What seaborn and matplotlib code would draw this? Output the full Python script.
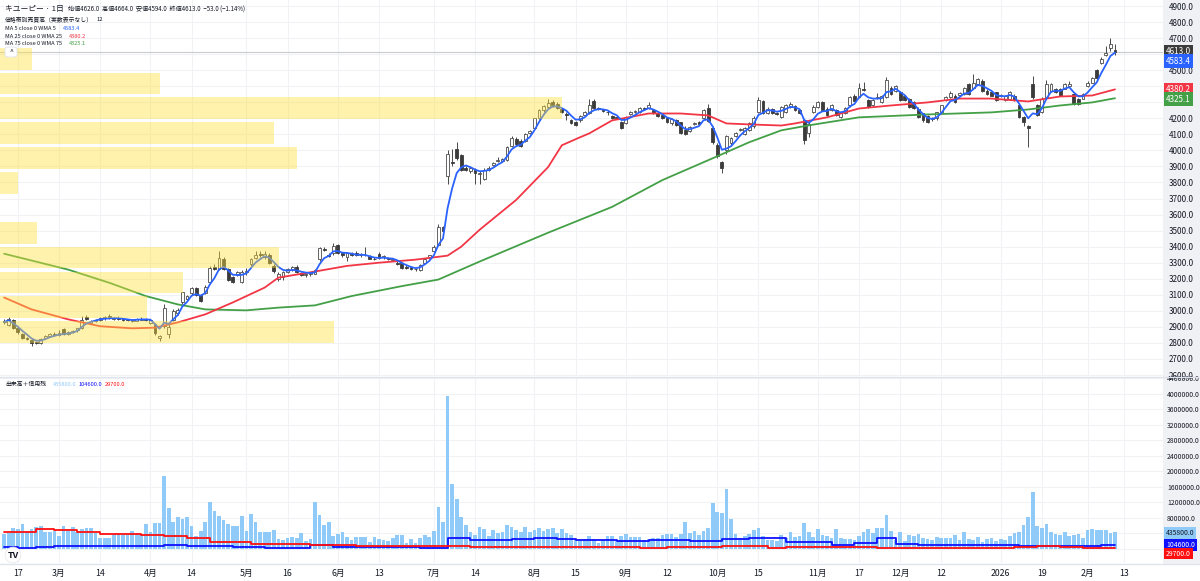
import numpy as np
import matplotlib
matplotlib.use("Agg")
import matplotlib.pyplot as plt
import matplotlib.ticker as mticker
from matplotlib.patches import Rectangle, FancyBboxPatch
import seaborn as sns

# Daily candles, trading days 2025-02-12 .. 2026-02-10 (index 0..243)
opens = [
    2935, 2912, 2940, 2893, 2858, 2832, 2820, 2805, 2800, 2828, 2842, 2856,
    2850, 2885, 2858, 2866, 2878, 2892, 2962, 2922, 2935, 2945, 2955, 2968, 2950, 2955, 2950, 2946, 2936, 2938, 2945, 2952,
    2925, 2915, 2832, 2905, 2855, 2945, 2985, 3055, 3075, 3110, 3140, 3100, 3110, 3180, 3272, 3262, 3322, 3258, 3208, 3225, 3182,
    3240, 3290, 3330, 3352, 3335, 3350, 3282, 3200, 3210, 3245, 3262, 3275, 3235, 3222, 3232, 3232, 3320, 3385, 3350, 3360,
    3410, 3360, 3335, 3355, 3360, 3345, 3350, 3340, 3325, 3355, 3335, 3330, 3318, 3300, 3300, 3275, 3275, 3258, 3255, 3300, 3335,
    3370, 3410, 3520, 3840, 3930, 4010, 3970, 3890, 3870, 3880, 3850, 3820, 3880, 3910, 3935, 3935, 3940, 4030, 4070, 4060, 4060, 4110,
    4140, 4200, 4250, 4270, 4300, 4290, 4255, 4228, 4190, 4180, 4188, 4220, 4232, 4310, 4262, 4252, 4242, 4215, 4205, 4176,
    4172, 4225, 4240, 4240, 4265, 4262, 4252, 4235, 4220, 4200, 4168, 4190, 4176, 4128, 4122, 4165, 4176, 4200, 4262, 4142,
    4032, 3928, 4000, 4045, 4090, 4128, 4100, 4125, 4150, 4240, 4305, 4232, 4258, 4232, 4208, 4240, 4272, 4276, 4250, 4187, 4110, 4237,
    4268, 4300, 4260, 4250, 4250, 4206, 4232, 4280, 4340, 4330, 4385, 4311, 4280, 4325, 4300, 4335, 4392, 4373,
    4361, 4340, 4320, 4300, 4261, 4230, 4212, 4195, 4199, 4237, 4311, 4330, 4342, 4345, 4354, 4416, 4392, 4416, 4435, 4373, 4361, 4361,
    4340, 4311, 4320, 4342, 4280, 4206, 4150, 4416, 4280, 4237, 4330, 4373, 4380, 4385, 4385, 4400, 4354, 4320, 4323,
    4404, 4423, 4500, 4547, 4595, 4640, 4626,
]
highs = [
    2950, 2960, 2948, 2900, 2862, 2840, 2825, 2815, 2830, 2850, 2862, 2865,
    2880, 2892, 2872, 2880, 2895, 2965, 2975, 2940, 2952, 2960, 2965, 2978, 2962, 2965, 2958, 2952, 2948, 2958, 2960, 2958,
    2948, 2922, 2850, 3040, 2915, 3010, 3015, 3120, 3100, 3148, 3150, 3108, 3158, 3280, 3295, 3375, 3335, 3265, 3215, 3250, 3255,
    3265, 3330, 3370, 3372, 3372, 3362, 3292, 3240, 3250, 3270, 3280, 3285, 3245, 3235, 3245, 3262, 3400, 3395, 3360, 3420,
    3415, 3365, 3365, 3365, 3370, 3360, 3400, 3345, 3335, 3365, 3350, 3335, 3330, 3310, 3305, 3285, 3280, 3270, 3295, 3330, 3350,
    3410, 3540, 3530, 4000, 4010, 4050, 3980, 3900, 3900, 3890, 3870, 3890, 3900, 3930, 3960, 3950, 4030, 4090, 4085, 4070, 4110, 4130,
    4205, 4255, 4285, 4320, 4315, 4300, 4265, 4240, 4195, 4185, 4220, 4245, 4318, 4318, 4270, 4258, 4250, 4222, 4212, 4182,
    4215, 4245, 4250, 4268, 4270, 4300, 4258, 4240, 4225, 4205, 4200, 4196, 4180, 4150, 4150, 4178, 4182, 4255, 4290, 4150,
    4045, 3935, 4095, 4085, 4112, 4142, 4145, 4178, 4212, 4330, 4312, 4268, 4265, 4240, 4275, 4288, 4300, 4285, 4256, 4195, 4175, 4285,
    4310, 4308, 4268, 4288, 4258, 4236, 4268, 4338, 4350, 4423, 4425, 4318, 4318, 4355, 4348, 4455, 4400, 4410,
    4370, 4348, 4328, 4306, 4268, 4236, 4218, 4208, 4242, 4286, 4336, 4370, 4350, 4362, 4398, 4422, 4478, 4454, 4442, 4380, 4368, 4367,
    4352, 4348, 4368, 4350, 4286, 4212, 4158, 4466, 4290, 4330, 4440, 4422, 4386, 4392, 4422, 4430, 4360, 4326, 4360,
    4430, 4460, 4508, 4580, 4650, 4700, 4664,
]
lows = [
    2920, 2905, 2888, 2858, 2825, 2818, 2782, 2795, 2795, 2822, 2838, 2845,
    2845, 2848, 2852, 2860, 2870, 2888, 2945, 2915, 2928, 2938, 2945, 2950, 2942, 2945, 2938, 2935, 2930, 2935, 2940, 2935,
    2918, 2850, 2812, 2890, 2830, 2935, 2975, 3045, 3065, 3100, 3095, 3055, 3105, 3170, 3255, 3255, 3255, 3185, 3172, 3218, 3175,
    3225, 3280, 3320, 3335, 3325, 3295, 3235, 3185, 3195, 3235, 3250, 3235, 3215, 3210, 3220, 3228, 3310, 3370, 3335, 3350,
    3355, 3335, 3310, 3340, 3340, 3335, 3340, 3320, 3315, 3325, 3325, 3315, 3310, 3285, 3260, 3260, 3255, 3250, 3250, 3295, 3325,
    3365, 3405, 3485, 3790, 3900, 3940, 3870, 3870, 3860, 3790, 3790, 3815, 3870, 3900, 3925, 3925, 3935, 4020, 4030, 4020, 4050, 4100,
    4135, 4195, 4240, 4260, 4270, 4255, 4230, 4190, 4165, 4150, 4180, 4215, 4228, 4255, 4250, 4238, 4220, 4198, 4195, 4132,
    4165, 4218, 4232, 4235, 4250, 4255, 4225, 4210, 4198, 4170, 4160, 4155, 4100, 4095, 4115, 4158, 4160, 4195, 4175, 4040,
    3955, 3858, 3980, 4035, 4082, 4118, 4095, 4118, 4140, 4232, 4225, 4228, 4228, 4220, 4200, 4235, 4265, 4245, 4225, 4040, 4085, 4230,
    4262, 4245, 4212, 4245, 4215, 4200, 4225, 4272, 4305, 4325, 4368, 4262, 4275, 4318, 4295, 4325, 4348, 4365,
    4305, 4305, 4262, 4258, 4200, 4180, 4168, 4185, 4192, 4230, 4305, 4325, 4295, 4338, 4348, 4348, 4386, 4410, 4367, 4348, 4336, 4305,
    4333, 4305, 4314, 4305, 4200, 4150, 4020, 4322, 4212, 4230, 4325, 4367, 4355, 4336, 4380, 4395, 4286, 4286, 4318,
    4398, 4418, 4448, 4540, 4588, 4620, 4594,
]
closes = [
    2930, 2950, 2895, 2865, 2830, 2825, 2800, 2802, 2825, 2845, 2855, 2850,
    2860, 2855, 2865, 2875, 2890, 2945, 2950, 2935, 2945, 2955, 2958, 2955, 2955, 2950, 2945, 2940, 2938, 2950, 2952, 2945,
    2940, 2860, 2845, 3020, 2900, 3000, 3005, 3115, 3090, 3140, 3100, 3060, 3150, 3270, 3262, 3330, 3262, 3192, 3180, 3240, 3245,
    3250, 3320, 3350, 3345, 3355, 3300, 3250, 3230, 3240, 3260, 3272, 3240, 3225, 3230, 3238, 3252, 3390, 3380, 3340, 3405,
    3360, 3345, 3360, 3350, 3345, 3350, 3345, 3325, 3320, 3330, 3340, 3320, 3320, 3295, 3270, 3270, 3260, 3262, 3285, 3325, 3345,
    3400, 3520, 3495, 3980, 3920, 3950, 3880, 3880, 3890, 3860, 3860, 3880, 3890, 3920, 3940, 3945, 4020, 4075, 4040, 4030, 4100, 4120,
    4200, 4250, 4275, 4295, 4280, 4262, 4240, 4222, 4170, 4158, 4215, 4240, 4282, 4262, 4255, 4245, 4238, 4204, 4202, 4140,
    4210, 4240, 4245, 4262, 4256, 4282, 4232, 4215, 4202, 4176, 4195, 4160, 4108, 4102, 4146, 4172, 4166, 4250, 4182, 4050,
    3962, 3890, 4088, 4078, 4108, 4132, 4138, 4170, 4205, 4315, 4232, 4261, 4232, 4226, 4268, 4280, 4292, 4250, 4230, 4065, 4165, 4268,
    4300, 4250, 4218, 4280, 4220, 4230, 4262, 4330, 4310, 4392, 4375, 4268, 4311, 4330, 4342, 4440, 4354, 4404,
    4311, 4311, 4268, 4265, 4206, 4187, 4175, 4200, 4237, 4280, 4330, 4355, 4300, 4355, 4392, 4354, 4423, 4447, 4373, 4354, 4342, 4311,
    4345, 4342, 4361, 4311, 4206, 4175, 4140, 4330, 4218, 4323, 4416, 4416, 4361, 4342, 4416, 4416, 4292, 4292, 4354,
    4423, 4454, 4454, 4571, 4605, 4666, 4613,
]
volumes = [
    387000, 421000, 533000, 507000, 645000, 464000, 507000, 576000, 602000, 430000, 430000, 473000,
    344000, 602000, 490000, 576000, 447000, 507000, 542000, 533000, 404000, 292000, 292000, 292000, 387000, 404000, 361000, 361000, 456000, 404000, 361000, 645000,
    447000, 663000, 680000, 1884000, 1066000, 705000, 834000, 774000, 817000, 594000, 344000, 464000, 688000, 1221000, 981000, 860000, 748000, 645000, 602000, 602000, 851000,
    456000, 903000, 688000, 447000, 447000, 447000, 490000, 249000, 232000, 275000, 318000, 275000, 404000, 215000, 258000, 1204000, 877000, 619000, 688000, 335000,
    387000, 430000, 301000, 232000, 318000, 301000, 318000, 189000, 301000, 258000, 232000, 215000, 275000, 361000, 361000, 164000, 249000, 164000, 292000, 361000, 318000,
    473000, 1092000, 705000, 3948000, 1669000, 1282000, 817000, 619000, 447000, 361000, 576000, 507000, 344000, 490000, 421000, 447000, 619000, 576000, 490000, 447000, 576000, 430000,
    490000, 533000, 464000, 507000, 533000, 421000, 507000, 404000, 361000, 232000, 232000, 249000, 344000, 249000, 164000, 232000, 335000, 344000, 232000, 335000,
    378000, 301000, 318000, 301000, 232000, 249000, 292000, 292000, 361000, 387000, 378000, 318000, 387000, 705000, 404000, 464000, 361000, 473000, 533000, 1196000,
    963000, 920000, 1548000, 774000, 387000, 292000, 344000, 387000, 490000, 533000, 344000, 232000, 232000, 215000, 361000, 275000, 430000, 301000, 344000, 663000, 447000, 318000,
    507000, 361000, 335000, 275000, 507000, 275000, 249000, 249000, 232000, 344000, 430000, 507000, 404000, 550000, 533000, 877000, 464000, 232000,
    430000, 215000, 361000, 335000, 378000, 292000, 258000, 232000, 301000, 275000, 292000, 275000, 361000, 232000, 430000, 249000, 232000, 318000, 189000, 249000, 292000, 215000,
    249000, 232000, 335000, 404000, 447000, 619000, 834000, 1480000, 594000, 533000, 645000, 447000, 387000, 361000, 447000, 335000, 361000, 387000, 292000,
    490000, 507000, 490000, 490000, 490000, 404000, 435800,
]

# WMA 25 / WMA 75 (trading-day index, value)
ma25_idx = [0, 6, 14, 21, 28, 33, 38, 44, 50, 57, 60, 68, 75, 82, 90, 97, 100, 104, 112, 119,
            122, 126, 128, 133, 141, 148, 154, 158, 163, 170, 173, 180, 187, 194, 202, 209, 216, 224, 231, 238, 243]
ma25_vals = [3083, 3009, 2947, 2904, 2891, 2895, 2928, 2978, 3052, 3145, 3207, 3245, 3280, 3300, 3319, 3344, 3400, 3505, 3691, 3896,
             4032, 4082, 4106, 4187, 4230, 4230, 4218, 4168, 4162, 4155, 4168, 4206, 4261, 4280, 4299, 4323, 4323, 4305, 4336, 4342, 4380.2]
ma75_idx = [0, 14, 23, 31, 38, 44, 53, 60, 68, 76, 87, 95, 104, 119, 133, 144, 155, 163, 170, 176, 187, 202, 216, 224, 231, 238, 243]
ma75_vals = [3356, 3257, 3175, 3092, 3040, 3009, 3003, 3020, 3034, 3092, 3154, 3195, 3307, 3487, 3648, 3815, 3951, 4051, 4125, 4156,
             4206, 4224, 4237, 4255, 4280, 4299, 4325.1]

# weekly margin balances (step start index, value)
buy_idx = [0, 3, 7, 11, 35, 40, 50, 57, 67, 72, 87, 91, 97, 102, 111, 116, 121, 125, 134, 141,
           150, 157, 163, 171, 181, 186, 191, 195, 200, 222, 226, 240]
buy_vals = [60000, 17000, 43000, 77000, 103000, 77000, 60000, 34000, 103000, 52000, 60000, 34000, 292000, 232000, 258000, 275000, 249000, 232000, 215000, 232000,
            206000, 249000, 292000, 189000, 103000, 146000, 275000, 129000, 103000, 86000, 77000, 104600]
sell_idx = [0, 7, 11, 16, 21, 30, 35, 40, 45, 54, 67, 72, 77, 81, 102, 139, 145, 157, 167, 171, 191, 221, 226, 231, 236]
sell_vals = [430000, 524000, 501000, 430000, 396000, 370000, 335000, 275000, 189000, 129000, 112000, 100000, 86000, 70000, 43000,
             20000, 43000, 77000, 20000, 43000, 20000, 43000, 77000, 43000, 29700]

# volume profile, 12 rows top to bottom (relative volume)
vp_volume = [32, 160, 562, 274, 297, 18, 0, 37, 279, 183, 147, 334]

tick_pos = [3, 12, 21, 32, 41, 53, 62, 73, 82, 94, 103, 116, 125, 136, 145, 156, 165, 178, 187, 196, 205, 218, 227, 237, 245]
tick_labels = ['17', '3月', '14', '4月', '14', '5月', '16', '6月', '13', '7月', '14', '8月', '15', '9月', '12',
               '10月', '15', '11月', '17', '12月', '12', '2026', '19', '2月', '13']

for arr in (opens, highs, lows, closes, volumes):
    assert len(arr) == 244, len(arr)

sns.set_theme(style='white')
plt.rcParams['font.family'] = ['Noto Sans CJK JP', 'DejaVu Sans']

W, H = 1200, 581
TXT = '#131722'
C_MA5, C_MA25, C_MA75 = '#2962ff', '#f23645', '#43a047'
C_VOL, C_BUY, C_SELL = '#90caf9', '#1010ff', '#ff1010'


def fx(x):
    return x / W


def fy(y):
    return 1 - y / H


def wma(values, n):
    w = np.arange(1, n + 1, dtype=float)
    out = np.empty(len(values))
    for i in range(len(values)):
        seg = values[max(0, i - n + 1):i + 1]
        ww = w[n - len(seg):]
        out[i] = np.dot(seg, ww) / ww.sum()
    return out


o = np.array(opens, float)
h = np.array(highs, float)
l = np.array(lows, float)
c = np.array(closes, float)
days = np.arange(len(c))
ma5 = wma(c, 5)

fig = plt.figure(figsize=(W / 100, H / 100), dpi=100)
fig.patch.set_facecolor('white')
# price scale strip on the right
fig.patches.append(Rectangle((fx(1163), fy(563)), 1 - fx(1163), fy(0) - fy(563),
                             transform=fig.transFigure, color='#eff1f5', zorder=-5))

ax = fig.add_axes([0, fy(376), fx(1163), fy(0) - fy(376)])
axv = fig.add_axes([0, fy(563), fx(1163), fy(377) - fy(563)], sharex=ax)

xlim = (-0.9, 253.5)

# --- price pane ---
ax.axhline(4613, color='#c9cbd1', lw=0.8, zorder=1)
ax.vlines(days, l, h, color='#4a4a4a', lw=0.7, zorder=2)
up = c >= o
bot = np.minimum(o, c)
hgt = np.maximum(np.abs(c - o), 4)
ax.bar(days[up], hgt[up], bottom=bot[up], width=0.62, color='white', edgecolor='#4a4a4a', linewidth=0.6, zorder=3)
ax.bar(days[~up], hgt[~up], bottom=bot[~up], width=0.62, color='#3b3b3b', edgecolor='#3b3b3b', linewidth=0.6, zorder=3)

sns.lineplot(x=ma75_idx, y=ma75_vals, ax=ax, color=C_MA75, linewidth=1.3, zorder=4)
sns.lineplot(x=ma25_idx, y=ma25_vals, ax=ax, color=C_MA25, linewidth=1.3, zorder=4)
sns.lineplot(x=days, y=ma5, ax=ax, color=C_MA5, linewidth=1.3, zorder=4)

# volume profile (overlay)
vp = np.array(vp_volume, float)
vp_w = vp / vp.max() * (562 / 1163) * (xlim[1] - xlim[0])
vp_centers = 4640 - 155 * np.arange(len(vp)) - 68
ax.barh(vp_centers, vp_w, left=xlim[0], height=136, color='#ffe03b', alpha=0.42, linewidth=0, zorder=6)

# scale labels hidden behind the last-value boxes
hidden_price = (4300, 4400, 4600)

ax.set_xlim(*xlim)
ax.set_ylim(2593.8, 4937.4)
ax.set_yticks(np.arange(2600, 4901, 100))
ax.yaxis.tick_right()
ax.yaxis.set_major_formatter(mticker.FuncFormatter(
    lambda v, p: '' if int(round(v)) in hidden_price else f'{v:.1f}'))
ax.tick_params(axis='y', length=0, labelsize=5.8, pad=4, colors=TXT)
ax.tick_params(axis='x', length=0, labelbottom=False)
ax.set_xticks(tick_pos)
ax.grid(True, color='#f0f2f5', lw=0.8, zorder=0)
ax.set_xlabel('')
ax.set_ylabel('')
for s in ax.spines.values():
    s.set_visible(False)

# --- volume pane ---
sns.barplot(x=days, y=volumes, ax=axv, color=C_VOL, saturation=1, width=0.8,
            native_scale=True, errorbar=None, linewidth=0, zorder=2)
sns.lineplot(x=buy_idx + [days[-1]], y=buy_vals + [buy_vals[-1]], ax=axv, color=C_BUY,
             linewidth=1.3, drawstyle='steps-post', zorder=3)
sns.lineplot(x=sell_idx + [days[-1]], y=sell_vals + [sell_vals[-1]], ax=axv, color=C_SELL,
             linewidth=1.3, drawstyle='steps-post', zorder=3)
axv.set_xlim(*xlim)
axv.set_ylim(-361300, 4438700)
axv.set_yticks(np.arange(0, 4400001, 400000))
axv.yaxis.tick_right()
axv.yaxis.set_major_formatter(mticker.FuncFormatter(lambda v, p: '' if v < 700000 else f'{v:.1f}'))
axv.tick_params(axis='y', length=0, labelsize=4.9, pad=3, colors=TXT)
axv.set_xticks(tick_pos)
axv.set_xticklabels(tick_labels)
axv.tick_params(axis='x', length=0, labelsize=6.3, pad=4, colors=TXT)
axv.grid(True, color='#f0f2f5', lw=0.8, zorder=0)
axv.set_xlabel('')
axv.set_ylabel('')
for s in axv.spines.values():
    s.set_visible(False)

# pane separators
for yy in (376.5, 563.5):
    fig.add_artist(plt.Line2D([0, 1], [fy(yy), fy(yy)], color='#e0e3eb', lw=1))

# --- header texts ---
fig.text(fx(5), fy(9.5), 'キユーピー · 1日', fontsize=5.6, va='center', color=TXT)
fig.text(fx(68), fy(9.5), '始値4626.0  高値4664.0  安値4594.0  終値4613.0  −53.0 (−1.14%)',
         fontsize=4.4, va='center', color=TXT)
fig.text(fx(5), fy(19.5), '価格帯別売買高（実数表示なし）', fontsize=4.2, va='center', color=TXT)
fig.text(fx(96), fy(19.5), '12', fontsize=4.2, va='center', color=TXT)
ma_rows = [('MA 5 close 0 WMA 5', '4583.4', C_MA5, 28.5, 63),
           ('MA 25 close 0 WMA 25', '4380.2', C_MA25, 36, 69),
           ('MA 75 close 0 WMA 75', '4325.1', C_MA75, 43.5, 69)]
for name, val, col, yy, xv in ma_rows:
    fig.text(fx(5), fy(yy), name, fontsize=4.1, va='center', color=TXT)
    fig.text(fx(xv), fy(yy), val, fontsize=4.1, va='center', color=col)
fig.patches.append(FancyBboxPatch((fx(5), fy(57)), fx(12), fy(47) - fy(57), boxstyle='round,pad=0,rounding_size=0.003',
                                  transform=fig.transFigure, fc='white', ec='#e0e3eb', lw=0.6, zorder=10))
fig.text(fx(11), fy(52.5), '^', fontsize=5, ha='center', va='center', color=TXT, zorder=11)

fig.text(fx(5), fy(384), '出来高＋信用残', fontsize=4.2, va='center', color=TXT)
fig.text(fx(53), fy(384), '435800.0', fontsize=4.1, va='center', color=C_VOL)
fig.text(fx(79), fy(384), '104600.0', fontsize=4.1, va='center', color=C_BUY)
fig.text(fx(105), fy(384), '29700.0', fontsize=4.1, va='center', color=C_SELL)

# --- last value boxes on the scale ---
boxes = [('4613.0', '#3c3c3c', 'white', 52, 5.8), ('4583.4', C_MA5, 'white', 61, 5.8),
         ('4380.2', C_MA25, 'white', 89.5, 5.8), ('4325.1', C_MA75, 'white', 99, 5.8),
         ('435800.0', C_VOL, TXT, 533, 4.9), ('104600.0', C_BUY, 'white', 545, 4.9), ('29700.0', C_SELL, 'white', 553.5, 4.9)]
for txt, bg, fg, yy, fs in boxes:
    fig.text(fx(1166), fy(yy), txt, fontsize=fs, va='center', ha='left', color=fg,
             bbox=dict(boxstyle='square,pad=0.25', fc=bg, ec='none'), zorder=12)

# TradingView mark
fig.text(fx(13), fy(555), 'TV', fontsize=6.5, fontweight='bold', ha='center', va='center', color='#131722',
         bbox=dict(boxstyle='circle,pad=0.25', fc='white', ec='#e8e8e8', lw=0.6))

fig.savefig('out.png', dpi=100)
